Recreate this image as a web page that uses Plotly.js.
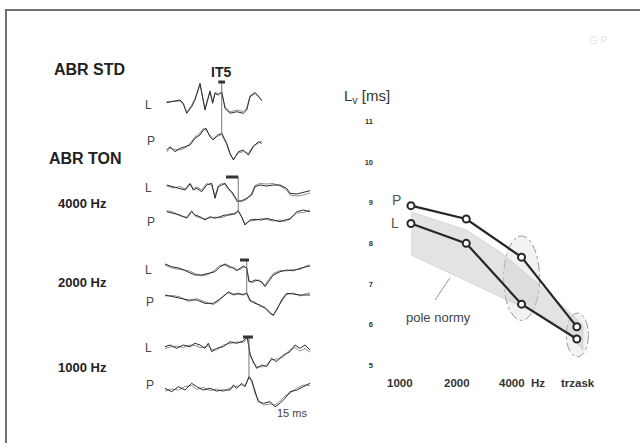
<!DOCTYPE html>
<html>
<head>
<meta charset="utf-8">
<script src="https://cdn.plot.ly/plotly-3.0.1.min.js"></script>
<style>html,body{margin:0;padding:0;background:#fff;overflow:hidden;}#chart{width:640px;height:443px;position:relative;}</style>
</head>
<body>
<div id="chart"></div>
<script>
// ---------- Right panel data: wave V latency (ms) ----------
const freqLabels = ['1000', '2000', '4000\u00a0 Hz', 'trzask'];
const latencyP = [8.93, 8.60, 7.66, 5.94];
const latencyL = [8.49, 8.00, 6.50, 5.64];
const normUpperX = [0, 1, 1.61, 2.39, 2.82, 3.11];
const normUpper  = [8.78, 8.33, 7.79, 6.90, 6.36, 5.99];
const normLowerX = [0, 0.7, 1.61, 2.39, 2.82, 3.11];
const normLower  = [7.71, 7.27, 6.68, 6.21, 5.86, 5.37];
const yTicks = [5, 6, 7, 8, 9, 10, 11];

// ---------- Left panel data: ABR waveforms (time ms, amplitude a.u.) ----------
const stdL_t = [0.17,1.54,1.88,2.23,2.74,3.08,3.6,4.11,4.62,4.9,5.14,5.48,5.83,6.17,6.68,7.37,8.05,8.4,8.74,9.25,9.59,9.94];
const stdL_a = [-0.7,2,-1.3,-11.3,-4.7,2,18.7,-8,10.3,-1.3,8.7,7,10.3,-6.3,-11.3,-9.7,-11.3,-8,5.3,8.7,5.3,2];
const stdL_b = [0.5,1,-2.5,-10,-3,3.5,17,-6.5,11.5,0.5,9.5,8.5,9,-5,-10,-8,-9.5,-6.5,6.5,10,6.5,1];

const stdP_t = [0.17,0.51,1.03,1.54,2.06,2.57,3.08,3.6,3.94,4.21,4.62,4.96,5.37,5.83,6.34,6.68,7.03,7.54,8.05,8.57,9.08,9.59,9.94];
const stdP_a = [-2,1.3,-3.7,-0.3,1.3,3,9.7,13,18,19.7,11.3,8,12.7,14.7,4.7,-5.3,-12,-3.7,-2,-7,1.3,6.3,4.7];
const stdP_b = [-4,0,-1.5,-2,0,4.5,11,15,19.5,18,12.5,9.5,11.5,13.5,3.5,-6.5,-11,-5,-3.5,-5.5,2.5,4.5,7];

const t4L_t = [0.17,0.86,1.54,2.06,2.57,2.91,3.26,3.77,4.28,4.8,5.14,5.48,5.83,6.17,6.51,6.85,7.19,7.43,7.88,8.4,8.91,9.25,9.76,10.45,11.13,11.82,12.5,12.85,13.54,14.21,14.9];
const t4L_a = [2,0.3,-1.3,-3,3,-3,-1.3,-4.7,2,3.7,-11.3,0.3,2,3.7,-1.3,-4.7,-9.7,-14.7,-13.7,-11.3,-8,0.3,2,1,2,2,-1.3,-6.3,-7,-5.7,-3.7];
const t4L_b = [1,-1,0.5,-2,4,-1.5,0,-3,3.5,2,-9,1.5,3.5,2.5,-2.5,-6,-11,-13,-14.5,-12.5,-6,1.5,3.5,3,3.5,1,-3,-8,-9,-8,-6];

const t4P_t = [0.17,0.86,1.54,2.23,2.74,3.08,3.6,4.11,4.62,5.14,5.65,6.17,6.68,7.19,7.53,7.88,8.22,8.74,9.25,9.94,10.45,11.13,11.82,12.33,12.85,13.54,14.21,14.9];
const t4P_a = [2.3,0.7,-1,-4.3,2.3,-1,-2.7,-6,-2.7,-4.3,-2.7,-1,-1,0.7,3.3,-2.7,-11,-6,-5.3,-6,-4.3,-6,-7.7,-6,-5.3,2.3,4,2.3];
const t4P_b = [3.5,2,-2,-3,3.5,-2,-4,-4.5,-4,-3,-4,-2.5,0.5,-0.5,2.5,-4,-9.5,-7,-6.5,-4.5,-5.5,-7,-6,-7.5,-4,1,1.5,3.5];

const t2L_t = [0,0.69,1.54,2.4,3.08,3.77,4.45,5.14,5.65,6.17,6.68,7.03,7.37,7.71,8.05,8.4,8.63,8.91,9.25,9.59,9.94,10.28,10.62,11.13,11.82,12.5,13.19,13.87,14.56,14.9];
const t2L_a = [3,0.3,-1.3,-4.7,-8,-8,-6.3,-4.7,0.3,3,0.3,-1.3,-3.7,-1.3,1,-1.3,-14.7,-14.7,-13,-13.7,-14.7,-19.7,-14.7,-8,-4.7,-3,-3.7,-1.3,0.3,1];
const t2L_b = [2,-1,-2.5,-3.5,-6.5,-9,-7.5,-3,1.5,2,-1,0,-2.5,-2.5,0,-0.5,-13,-16,-14.5,-12.5,-16,-18,-13,-6.5,-3.5,-4,-2.5,-2.5,1.5,2];

const t2P_t = [0,0.86,1.54,2.4,3.26,4.11,4.97,5.48,5.99,6.51,7.03,7.54,8.05,8.4,8.74,9.25,9.76,10.28,10.79,11.13,11.48,11.99,12.5,13.19,13.87,14.56,14.9];
const t2P_a = [1,-0.7,-2.3,-4,-4,-7.3,-7.3,-4,-0.7,4.3,1,2.7,1,3.3,-4,-7.3,-9,-12.3,-17.3,-19,-14,-4,2.7,2,1,1,1];
const t2P_b = [0,0.5,-1,-5.5,-2.5,-6,-8.5,-5.5,0.5,3,2.5,1.5,2,2,-5.5,-6,-10.5,-11,-16,-20,-12.5,-5.5,1.5,3,0,2.5,3];

const t1L_t = [0,0.51,1.2,1.88,2.57,3.08,3.6,4.11,4.45,4.8,5.31,5.99,6.68,7.37,8.05,8.46,8.74,9.08,9.42,9.94,10.45,10.96,11.48,12.16,12.85,13.36,13.87,14.39,14.9];
const t1L_a = [-0.7,1,-2.3,1,-0.7,2.7,1,-2.3,2.7,-5.7,-2.3,-0.7,4.3,2.7,5,9.3,-9,-15.7,-22.3,-19,-20.7,-12.3,-15.7,-9,-5.7,1,-2.3,1,-4];
const t1L_b = [-2.5,-1,0,-1.5,1,0.5,-1.5,-1,0.5,-3.5,-4,1,2.5,4,3.5,8,-7,-17,-20.5,-21,-18.5,-14,-13,-11,-3.5,-1.5,-5,-2.5,-6];

const t1P_t = [0,0.69,1.37,2.06,2.74,3.26,3.94,4.62,5.31,5.99,6.68,7.03,7.37,7.88,8.22,8.63,8.91,9.25,9.59,10.11,10.79,11.31,11.82,12.33,12.85,13.54,14.21,14.9];
const t1P_a = [-0.3,-3.7,1.3,-2,4.7,1.3,-2,-0.3,-3,-2,-2,3,-0.3,4.7,1.3,11.3,8,-3.7,-13.7,-15.3,-13.7,-18.7,-15.3,-10.3,-3.7,-2,1.3,4.7];
const t1P_b = [-3,-1,-2,1.5,2.5,-1.5,0.5,-2.5,-1,-3.5,0,1,1.5,3,2.5,10,6.5,-5.5,-12,-17,-16,-17,-13,-8,-5.5,0,3,2.5];

// wave V marker latency (ms) and bar extent (ms) for STD, 4000, 2000, 1000
const markerLatency = [5.83, 7.53, 8.4, 8.63];
const markerBarStart = [5.48, 6.27, 7.71, 8.02];
const markerBarEnd = [6.17, 7.53, 8.63, 9.04];

// ---------- layout helpers ----------
const W = 640, H = 443;
const px = v => v / W;
const py = v => 1 - v / H;
const FONT = 'Liberation Sans, Arial, sans-serif';

const waves = [
  {t: stdL_t, a: stdL_a, b: stdL_b},
  {t: stdP_t, a: stdP_a, b: stdP_b},
  {t: t4L_t, a: t4L_a, b: t4L_b},
  {t: t4P_t, a: t4P_a, b: t4P_b},
  {t: t2L_t, a: t2L_a, b: t2L_b},
  {t: t2P_t, a: t2P_a, b: t2P_b},
  {t: t1L_t, a: t1L_a, b: t1L_b},
  {t: t1P_t, a: t1P_a, b: t1P_b}
];
const baselines = [102, 148, 187, 214, 267, 296, 346, 388];
const waveLabels = ['L','P','L','P','L','P','L','P'];
const labelPos = [[148,105],[151,141],[148,188],[151,222],[148,270],[150,302],[148,348],[150,385]];

function ann(o) {
  return Object.assign({showarrow: false, xanchor: 'center', yanchor: 'middle'}, o);
}

const traces = [];
const layout = {
  width: W, height: H,
  margin: {l: 0, r: 0, t: 0, b: 0, pad: 0},
  paper_bgcolor: '#fff', plot_bgcolor: 'rgba(0,0,0,0)',
  showlegend: false,
  font: {family: FONT, color: '#333'},
  xaxis: {domain: [380/W, 610/W], range: [-0.56, 3.6], showgrid: false, zeroline: false,
          showticklabels: false, showline: false, ticks: '', anchor: 'y'},
  yaxis: {domain: [1 - 375/H, 1 - 100/H], range: [4.753, 11.535], showgrid: false, zeroline: false,
          showline: false, ticks: '', tickvals: yTicks, ticktext: yTicks.map(String),
          tickfont: {size: 7.5, family: FONT, color: '#333', weight: 'bold'}, ticklabelstandoff: 6, anchor: 'x'},
  xaxis2: {domain: [150/W, 320/W], range: [-1.542, 15.93], visible: false, anchor: 'y2'},
  // full-page frame axes (pixel units) for the scanned page border
  xaxis10: {domain: [0, 1], range: [0, W], visible: false, anchor: 'y10', fixedrange: true},
  yaxis10: {domain: [0, 1], range: [H, 0], visible: false, anchor: 'x10', fixedrange: true},
  shapes: [], annotations: []
};

// page frame: top edge at 10 px, left edge at 6 px
const frameX = [6, 6, W + 5];
const frameY = [H + 5, 10, 10];
traces.push({x: frameX, y: frameY, xaxis: 'x10', yaxis: 'y10', mode: 'lines',
             line: {color: '#707070', width: 2}, hoverinfo: 'skip', cliponaxis: false});

// waveform subplots
waves.forEach((w, i) => {
  const n = i + 2;
  layout['yaxis' + n] = {domain: [1 - (baselines[i] + 30)/H, 1 - (baselines[i] - 30)/H], range: [-30, 30],
                   visible: false, anchor: 'x2'};
  traces.push({x: w.t, y: w.b, xaxis: 'x2', yaxis: 'y' + n, mode: 'lines',
               line: {color: '#8f8f8f', width: 1}, hoverinfo: 'skip'});
  traces.push({x: w.t, y: w.a, xaxis: 'x2', yaxis: 'y' + n, mode: 'lines',
               line: {color: '#2a2a2a', width: 1}, hoverinfo: 'skip'});
  layout.annotations.push(ann({xref: 'paper', yref: 'paper', x: px(labelPos[i][0]), y: py(labelPos[i][1]),
    text: waveLabels[i], font: {size: 12, color: '#444', family: FONT}}));
});

// wave V markers
const markerTop = [82, 177, 260, 337];
const markerBottom = [134, 212, 294, 377];
markerLatency.forEach((lat, i) => {
  layout.shapes.push({type: 'line', xref: 'x2', yref: 'paper', x0: lat, x1: lat,
    y0: py(markerTop[i]), y1: py(markerBottom[i]), line: {color: '#777', width: 1}});
  layout.shapes.push({type: 'line', xref: 'x2', yref: 'paper', x0: markerBarStart[i], x1: markerBarEnd[i],
    y0: py(markerTop[i]), y1: py(markerTop[i]), line: {color: '#333', width: 3}});
});

// right panel: norm band
traces.push({x: normUpperX.concat(normLowerX.slice().reverse()),
             y: normUpper.concat(normLower.slice().reverse()),
             xaxis: 'x', yaxis: 'y', mode: 'lines', fill: 'toself',
             fillcolor: 'rgba(200,200,200,0.5)', line: {color: 'rgba(170,170,170,0.6)', width: 0.6},
             hoverinfo: 'skip'});
// series
[latencyP, latencyL].forEach(s => {
  traces.push({x: [0, 1, 2, 3], y: s, xaxis: 'x', yaxis: 'y', mode: 'lines+markers',
    line: {color: '#262626', width: 2.2},
    marker: {symbol: 'circle', size: 7, color: '#fff', line: {color: '#262626', width: 2}},
    cliponaxis: false, hoverinfo: 'skip'});
});

// ellipses
layout.shapes.push({type: 'circle', xref: 'x', yref: 'y', x0: 1.675, x1: 2.325, y0: 6.10, y1: 8.18,
  fillcolor: 'rgba(190,190,190,0.2)', line: {color: '#999', width: 1, dash: 'dashdot'}, layer: 'below'});
layout.shapes.push({type: 'circle', xref: 'x', yref: 'y', x0: 2.81, x1: 3.21, y0: 5.20, y1: 6.28,
  fillcolor: 'rgba(190,190,190,0.2)', line: {color: '#999', width: 1, dash: 'dashdot'}, layer: 'below'});
// pointer for "pole normy"
layout.shapes.push({type: 'line', xref: 'x', yref: 'y', x0: 0.434, x1: 0.705, y0: 6.60, y1: 7.15,
  line: {color: '#999', width: 1}});

// category labels
const catOffset = [-0.2, -0.17, 0.01, 0.02];
freqLabels.forEach((lab, i) => {
  layout.annotations.push(ann({xref: 'x', yref: 'paper', x: i + catOffset[i], y: py(383), text: lab,
    font: {size: 11.5, color: '#333', family: FONT, weight: 'bold'}}));
});

// right panel texts
layout.annotations.push(ann({xref: 'paper', yref: 'paper', x: px(366.5), y: py(96), text: 'L<sub>v</sub> [ms]',
  font: {size: 15, color: '#333', family: FONT}}));
layout.annotations.push(ann({xref: 'x', yref: 'y', x: -0.27, y: 9.07, text: 'P',
  font: {size: 14, color: '#555', family: FONT}}));
layout.annotations.push(ann({xref: 'x', yref: 'y', x: -0.28, y: 8.50, text: 'L',
  font: {size: 14, color: '#555', family: FONT}}));
layout.annotations.push(ann({xref: 'x', yref: 'y', x: 0.49, y: 6.18, text: 'pole normy',
  font: {size: 13, color: '#444', family: FONT}}));

// left panel texts
const boldTexts = [
  ['ABR STD', 89, 69, 16, 'center'],
  ['IT5', 220.5, 72, 14, 'center'],
  ['ABR TON', 85, 158, 16, 'center'],
  ['4000 Hz', 56, 203, 13, 'left'],
  ['2000 Hz', 56, 282, 13, 'left'],
  ['1000 Hz', 56, 367, 13, 'left']
];
boldTexts.forEach(b => {
  layout.annotations.push(ann({xref: 'paper', yref: 'paper', x: px(b[1]), y: py(b[2]), text: b[0],
    xanchor: b[4], font: {size: b[3], color: '#222', family: FONT, weight: 'bold'}}));
});
layout.annotations.push(ann({xref: 'paper', yref: 'paper', x: px(292), y: py(413), text: '15 ms',
  font: {size: 11, color: '#444', family: FONT}}));
layout.annotations.push(ann({xref: 'paper', yref: 'paper', x: px(598), y: py(40), text: 'G P',
  font: {size: 11, color: '#e6e6e6', family: FONT}}));

Plotly.newPlot('chart', traces, layout, {displayModeBar: false, staticPlot: true});
</script>
</body>
</html>
